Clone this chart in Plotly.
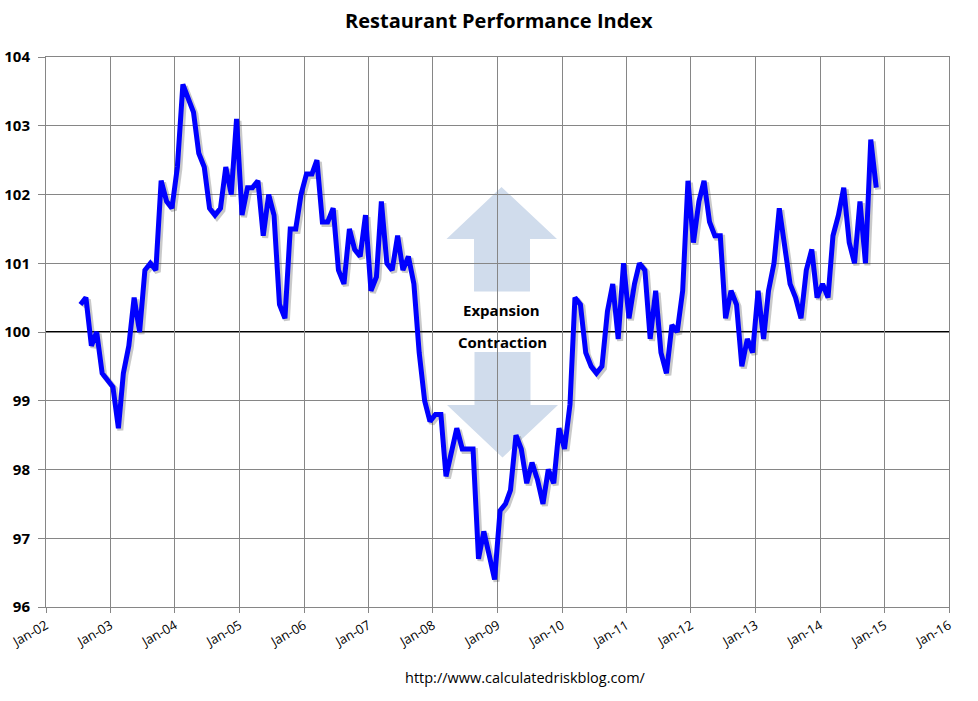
import pandas as pd
import plotly.graph_objects as go

# ---------------- data ----------------
start_month = "2002-07-01"
rpi_values = [
    # 2002 Jul-Dec
    100.4, 100.5, 99.8, 100.0, 99.4, 99.3,
    # 2003
    99.2, 98.6, 99.4, 99.8, 100.5, 100.0, 100.9, 101.0, 100.9, 102.2, 101.9, 101.8,
    # 2004
    102.4, 103.6, 103.4, 103.2, 102.6, 102.4, 101.8, 101.7, 101.8, 102.4, 102.0, 103.1,
    # 2005
    101.7, 102.1, 102.1, 102.2, 101.4, 102.0, 101.7, 100.4, 100.2, 101.5, 101.5, 102.0,
    # 2006
    102.3, 102.3, 102.5, 101.6, 101.6, 101.8, 100.9, 100.7, 101.5, 101.2, 101.1, 101.7,
    # 2007
    100.6, 100.8, 101.9, 101.0, 100.9, 101.4, 100.9, 101.1, 100.7, 99.7, 99.0, 98.7,
    # 2008
    98.8, 98.8, 97.9, 98.3, 98.6, 98.3, 98.3, 98.3, 96.7, 97.1, 96.75, 96.4,
    # 2009
    97.4, 97.5, 97.7, 98.5, 98.3, 97.8, 98.1, 97.85, 97.5, 98.0, 97.8, 98.6,
    # 2010
    98.3, 98.95, 100.5, 100.4, 99.7, 99.5, 99.4, 99.5, 100.3, 100.7, 99.9, 101.0,
    # 2011
    100.2, 100.7, 101.0, 100.9, 99.9, 100.6, 99.7, 99.4, 100.1, 100.0, 100.6, 102.2,
    # 2012
    101.3, 101.9, 102.2, 101.6, 101.4, 101.4, 100.2, 100.6, 100.4, 99.5, 99.9, 99.7,
    # 2013
    100.6, 99.9, 100.6, 101.0, 101.8, 101.3, 100.7, 100.5, 100.2, 100.9, 101.2, 100.5,
    # 2014 Jan-Nov
    100.7, 100.5, 101.4, 101.7, 102.1, 101.3, 101.0, 101.9, 101.0, 102.8, 102.1,
]
dates = pd.date_range(start_month, periods=len(rpi_values), freq="MS") + pd.Timedelta(days=14)

x_range = ["2002-01-01", "2016-01-01"]
y_range = [96, 104]
y_ticks = [96, 97, 98, 99, 100, 101, 102, 103, 104]
baseline = 100

title_text = "Restaurant Performance Index"
source_text = "http://www.calculatedriskblog.com/"

# ---------------- layout geometry (page body margin removed via post_script) ----------------
W, H = 978, 701
L, R, T, B = 46, 949, 57, 607
GRID = "#868686"
FONT = "Open Sans"


def px(x):
    return (x - L) / (R - L)


def py(y):
    return (B - y) / (B - T)


# shadow offset (pixels -> axis units) realised through shifted hidden axes
shift_days = pd.Timedelta(days=11)
shift_y = 2.0 * (y_range[1] - y_range[0]) / (B - T)
x_range_shadow = [str((pd.Timestamp(x_range[0]) - shift_days).date()),
                  str((pd.Timestamp(x_range[1]) - shift_days).date())]
y_range_shadow = [y_range[0] + shift_y, y_range[1] + shift_y]

fig = go.Figure()

# shadow (on hidden, slightly shifted axes)
fig.add_trace(go.Scatter(
    x=dates, y=rpi_values, mode="lines",
    line=dict(color="rgba(60,60,60,0.28)", width=6),
    xaxis="x", yaxis="y", hoverinfo="skip", showlegend=False,
))
# main line
fig.add_trace(go.Scatter(
    x=dates, y=rpi_values, mode="lines",
    line=dict(color="#0000FF", width=5),
    xaxis="x2", yaxis="y2", showlegend=False, name="RPI",
))

fig.update_layout(
    width=W, height=H,
    margin=dict(l=L, r=W - R, t=T, b=H - B, autoexpand=False),
    paper_bgcolor="white", plot_bgcolor="white",
    font=dict(family=FONT, color="black"),
    showlegend=False,
    xaxis=dict(type="date", range=x_range_shadow, visible=False, showgrid=False, automargin=False),
    yaxis=dict(range=y_range_shadow, visible=False, showgrid=False, automargin=False),
    xaxis2=dict(
        type="date", range=x_range, overlaying="x", side="bottom", anchor="y2",
        dtick="M12", tick0="2002-01-01", tickformat="%b-%y", tickangle=-30,
        showgrid=True, gridcolor=GRID, gridwidth=1,
        showline=True, linecolor=GRID, linewidth=1, mirror=True,
        ticks="outside", ticklen=5, tickcolor=GRID,
        tickfont=dict(family=FONT, size=13, color="black"),
        ticklabeloverflow="allow",
        zeroline=False, automargin=False,
    ),
    yaxis2=dict(
        range=y_range, overlaying="y", side="left", anchor="x2",
        tickvals=y_ticks,
        showgrid=True, gridcolor=GRID, gridwidth=1,
        showline=True, linecolor=GRID, linewidth=1, mirror=True,
        ticks="outside", ticklen=7, tickcolor=GRID,
        ticklabelstandoff=5,
        tickfont=dict(family=FONT, size=15, color="black", weight="bold"),
        zeroline=False, automargin=False,
    ),
)

# arrows (pixel geometry converted to paper coordinates)
ARROW = "#D0DCEC"
up = [(501.5, 187), (557, 239), (530, 239), (530, 291.5), (474, 291.5), (474, 239), (446.5, 239)]
down = [(474.5, 352), (530.5, 352), (530.5, 405), (558, 405), (502.5, 457.5), (447, 405), (474.5, 405)]


def poly(points):
    return "M " + " L ".join(f"{px(a):.5f},{py(b):.5f}" for a, b in points) + " Z"


for pts in (up, down):
    fig.add_shape(type="path", path=poly(pts), xref="paper", yref="paper",
                  fillcolor=ARROW, line=dict(width=0), layer="below")

# baseline at 100
fig.add_shape(type="line", xref="paper", yref="y2", x0=0, x1=1, y0=baseline, y1=baseline,
              line=dict(color="black", width=2), layer="between")


def label(text, xs, ys, size, bold=False):
    fig.add_annotation(text=f"<b>{text}</b>" if bold else text,
                       x=px(xs), y=py(ys), xref="paper", yref="paper",
                       xanchor="center", yanchor="middle", showarrow=False,
                       font=dict(family=FONT, size=size, color="black"))


label("Expansion", 501, 310, 15, bold=True)
label("Contraction", 503, 341.5, 15, bold=True)
label(title_text, 499, 20.5, 20, bold=True)
label(source_text, 525, 677, 14.5)

fig.write_html(
    "out.html",
    config={"displayModeBar": False},
    post_script="document.body.style.margin='0px';document.body.style.overflow='hidden';",
)
